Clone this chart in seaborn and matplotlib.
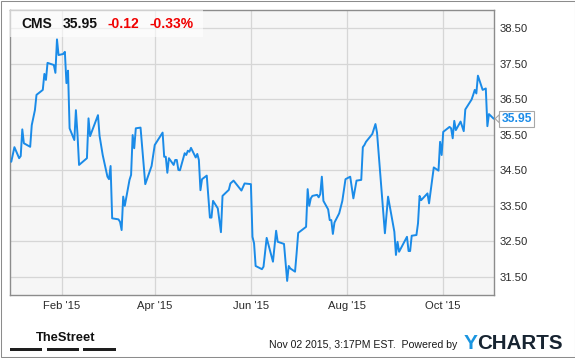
import matplotlib
matplotlib.use("Agg")
import numpy as np
import pandas as pd
import seaborn as sns
import matplotlib.pyplot as plt
import matplotlib.dates as mdates
from matplotlib import font_manager
from matplotlib.patches import Rectangle, Polygon
from matplotlib.transforms import IdentityTransform

# ---------------- data ----------------
dates = [
    "2014-12-31", "2015-01-02", "2015-01-05", "2015-01-06", "2015-01-07", "2015-01-08",
    "2015-01-12", "2015-01-13", "2015-01-15", "2015-01-16", "2015-01-20", "2015-01-21",
    "2015-01-22", "2015-01-23", "2015-01-27", "2015-01-28", "2015-01-29", "2015-01-30",
    "2015-02-02", "2015-02-03", "2015-02-04", "2015-02-05", "2015-02-06", "2015-02-09",
    "2015-02-10", "2015-02-11", "2015-02-12", "2015-02-17", "2015-02-18", "2015-02-19",
    "2015-02-24", "2015-02-25", "2015-02-27", "2015-03-02", "2015-03-03", "2015-03-04",
    "2015-03-05", "2015-03-09", "2015-03-10", "2015-03-11", "2015-03-12", "2015-03-13",
    "2015-03-16", "2015-03-17", "2015-03-18", "2015-03-19", "2015-03-20", "2015-03-23",
    "2015-03-26", "2015-03-30", "2015-04-01", "2015-04-06", "2015-04-07", "2015-04-08",
    "2015-04-09", "2015-04-10", "2015-04-13", "2015-04-14", "2015-04-15", "2015-04-16",
    "2015-04-17", "2015-04-20", "2015-04-21", "2015-04-22", "2015-04-23", "2015-04-24",
    "2015-04-27", "2015-04-28", "2015-04-29", "2015-04-30", "2015-05-01", "2015-05-04",
    "2015-05-06", "2015-05-07", "2015-05-08", "2015-05-11", "2015-05-13", "2015-05-14",
    "2015-05-18", "2015-05-19", "2015-05-21", "2015-05-26", "2015-05-28", "2015-06-01",
    "2015-06-02", "2015-06-03", "2015-06-04", "2015-06-08", "2015-06-09", "2015-06-11",
    "2015-06-15", "2015-06-17", "2015-06-18", "2015-06-22", "2015-06-24", "2015-06-25",
    "2015-06-26", "2015-06-29", "2015-06-30", "2015-07-01", "2015-07-06", "2015-07-07",
    "2015-07-08", "2015-07-09", "2015-07-10", "2015-07-13", "2015-07-14", "2015-07-15",
    "2015-07-16", "2015-07-17", "2015-07-20", "2015-07-21", "2015-07-22", "2015-07-23",
    "2015-07-24", "2015-07-27", "2015-07-29", "2015-07-31", "2015-08-03", "2015-08-05",
    "2015-08-07", "2015-08-10", "2015-08-11", "2015-08-12", "2015-08-13", "2015-08-17",
    "2015-08-19", "2015-08-20", "2015-08-25", "2015-08-27", "2015-08-31", "2015-09-01",
    "2015-09-02", "2015-09-03", "2015-09-08", "2015-09-09", "2015-09-10", "2015-09-11",
    "2015-09-14", "2015-09-15", "2015-09-16", "2015-09-17", "2015-09-21", "2015-09-22",
    "2015-09-25", "2015-09-28", "2015-09-29", "2015-09-30", "2015-10-01", "2015-10-05",
    "2015-10-06", "2015-10-07", "2015-10-08", "2015-10-09", "2015-10-12", "2015-10-14",
    "2015-10-15", "2015-10-19", "2015-10-20", "2015-10-21", "2015-10-22", "2015-10-23",
    "2015-10-26", "2015-10-28", "2015-10-29", "2015-10-30", "2015-11-02",
]
prices = [
    34.74, 35.15, 34.84, 34.90, 35.65, 35.26,
    35.16, 35.77, 36.19, 36.62, 36.76, 37.21,
    37.04, 37.52, 37.46, 37.24, 38.18, 37.74,
    37.77, 37.83, 36.95, 37.30, 35.68, 35.35,
    36.19, 35.52, 34.65, 34.84, 35.96, 35.46,
    36.05, 35.47, 34.93, 34.32, 34.25, 34.62,
    33.15, 33.12, 33.05, 32.82, 33.76, 33.50,
    34.23, 34.37, 35.49, 35.12, 35.68, 35.70,
    34.11, 34.62, 35.21, 35.56, 34.88, 34.88,
    34.43, 34.84, 34.65, 34.79, 34.79, 34.51,
    34.50, 34.98, 34.93, 35.05, 35.02, 35.13,
    34.86, 34.96, 34.79, 33.94, 34.25, 34.35,
    33.17, 33.17, 33.64, 33.43, 32.76, 33.78,
    33.95, 34.13, 34.21, 33.93, 34.13, 34.11,
    32.63, 32.45, 31.81, 31.72, 31.79, 32.60,
    31.93, 32.80, 32.49, 32.43, 31.39, 31.81,
    31.74, 31.65, 32.17, 32.74, 32.91, 33.97,
    33.50, 33.71, 33.78, 33.81, 33.74, 33.83,
    34.32, 33.64, 33.40, 33.10, 33.10, 32.71,
    33.03, 33.29, 33.64, 34.25, 34.32, 33.71,
    34.21, 34.23, 35.15, 35.21, 35.30, 35.52,
    35.80, 35.56, 32.73, 33.76, 32.77, 32.12,
    32.49, 32.21, 32.63, 32.23, 32.23, 32.66,
    32.68, 33.01, 33.78, 33.66, 33.85, 33.57,
    34.58, 34.49, 35.30, 34.93, 35.58, 35.72,
    35.68, 35.40, 35.89, 35.63, 35.87, 35.60,
    36.21, 36.49, 36.62, 36.76, 36.66, 37.16,
    36.76, 36.80, 35.74, 36.08, 35.95,
]
symbol = "CMS"
last_price = 35.95
change = -0.12
change_pct = -0.33
y_ticks = [31.5, 32.5, 33.5, 34.5, 35.5, 36.5, 37.5, 38.5]
x_ticks = ["2015-02-01", "2015-04-01", "2015-06-01", "2015-08-01", "2015-10-01"]
x_tick_labels = ["Feb '15", "Apr '15", "Jun '15", "Aug '15", "Oct '15"]
stamp_text = "Nov 02 2015, 3:17PM EST.  Powered by"
brand_left = "TheStreet"

# ---------------- style ----------------
W, H = 575, 358
sns.set_theme(style="white")
plt.rcParams["font.family"] = ["Liberation Sans", "DejaVu Sans"]

names = {f.name for f in font_manager.fontManager.ttflist}
narrow = "Liberation Sans Narrow" in names

LINE = "#1a8be8"
RED = "#f00000"

fig = plt.figure(figsize=(W / 100, H / 100), dpi=100)
fig.patch.set_facecolor("white")


def fx(px):
    return px / W


def fy(py):
    return 1 - py / H


ax = fig.add_axes([fx(10), fy(295), (494 - 10) / W, (295 - 10) / H])
ax.set_facecolor("#f6f6f6")

df = pd.DataFrame({"date": pd.to_datetime(dates), "price": prices})
sns.lineplot(data=df, x="date", y="price", ax=ax, color=LINE, linewidth=1.4, zorder=4)

t0 = pd.Timestamp("2015-01-01")
ax.set_xlim(t0 - pd.Timedelta(days=1.8), t0 + pd.Timedelta(days=305.2))
ax.set_ylim(30.994, 39.006)

ax.set_yticks(y_ticks)
ax.set_yticklabels([f"{v:.2f}" for v in y_ticks])
ax.set_xticks(pd.to_datetime(x_ticks))
ax.set_xticklabels(x_tick_labels)
ax.yaxis.tick_right()
ax.tick_params(axis="both", length=0, colors="#2a2a2a", labelsize=8.1)
ax.tick_params(axis="y", pad=4.2)
ax.tick_params(axis="x", pad=4.0)
ax.set_xlabel("")
ax.set_ylabel("")
ax.grid(True, color="#d6d6d6", linewidth=0.9)
ax.set_axisbelow(True)
for s in ax.spines.values():
    s.set_visible(True)
    s.set_color("#8c8c8c")
    s.set_linewidth(1.0)

# header box in the plot
ax.add_patch(Rectangle((0, 1 - 27 / 285), 193 / 484, 27 / 285, transform=ax.transAxes,
                       facecolor="white", alpha=0.6, edgecolor="none", zorder=5))
hdr_y = fy(28.3)
hdr_kw = dict(fontsize=10, fontweight="bold", va="baseline", zorder=6)
fig.text(fx(21.7), hdr_y, symbol, color="#111111", **hdr_kw)
fig.text(fx(62.5), hdr_y, f"{last_price:.2f}", color="#111111", **hdr_kw)
fig.text(fx(107.3), hdr_y, f"{change:.2f}", color=RED, **hdr_kw)
fig.text(fx(149), hdr_y, f"{change_pct:.2f}%", color=RED, **hdr_kw)

# last value tag
last_date = df["date"].iloc[-1]
last_val = df["price"].iloc[-1]
fig.canvas.draw()
px, py = ax.transData.transform((mdates.date2num(last_date), last_val))
ax.annotate(f"{last_val:.2f}", xy=(last_date, last_val), xytext=(23, 0),
            textcoords="offset pixels", ha="center", va="center",
            fontsize=8.7, fontweight="bold", color=LINE, annotation_clip=False,
            bbox=dict(boxstyle="square,pad=0.18", fc="white", ec="#a8a8a8", lw=0.8),
            zorder=7)
fig.add_artist(Polygon([[px + 1.5, py], [px + 5.5, py + 4], [px + 5.5, py - 4]],
                       closed=True, transform=IdentityTransform(), facecolor="white",
                       edgecolor="#a8a8a8", linewidth=0.8, zorder=8))

# footer
if narrow:
    fig.text(fx(36.7), fy(341), brand_left, fontsize=11, fontweight="bold",
             family=["Liberation Sans Narrow", "DejaVu Sans"], color="#111111", va="baseline")
else:
    fig.text(fx(36.0), fy(341), brand_left, fontsize=9.3, fontweight="bold",
             color="#111111", va="baseline")
for x0, x1 in [(10, 42.3), (46.7, 79), (83.3, 116)]:
    fig.add_artist(Rectangle((fx(x0), fy(350.7)), (x1 - x0) / W, 3 / H,
                             transform=fig.transFigure, facecolor="#1e1e1e", edgecolor="none"))

fig.text(fx(269.3), fy(348.5), stamp_text, fontsize=7.6, color="#1a1a1a", va="baseline")
fig.text(fx(463.3), fy(349.2), "Y", fontsize=15, fontweight="bold", color="#1a95e0", va="baseline")
fig.text(fx(477.0), fy(349.2), "CHARTS", fontsize=14.8, fontweight="bold", color="#172431", va="baseline")

# outer frame
fig.add_artist(Rectangle((fx(0.5), fy(356.5)), 574 / W, 356 / H, transform=fig.transFigure,
                         fill=False, edgecolor="#8c8c8c", linewidth=0.75))

fig.savefig("out.png", dpi=100)
